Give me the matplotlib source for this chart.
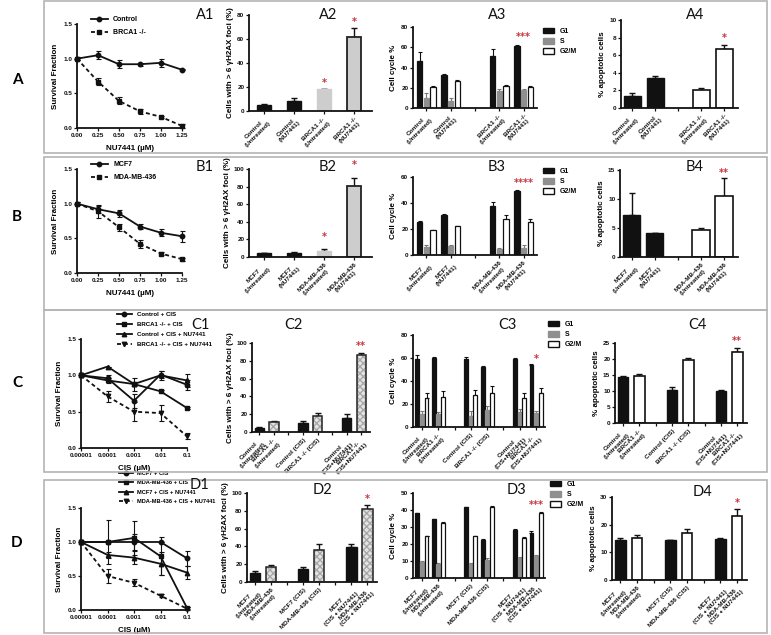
import matplotlib
matplotlib.use('Agg')
import matplotlib.pyplot as plt
import numpy as np
from matplotlib.patches import Rectangle, Patch
from matplotlib.lines import Line2D

# ---------------- DATA ----------------
nu_dose = [0, 0.25, 0.5, 0.75, 1.0, 1.25]
cis_dose = [0.00001, 0.0001, 0.001, 0.01, 0.1]
cis_ticklabels = ["0.00001", "0.0001", "0.001", "0.01", "0.1"]

# A1
a1_names = ["Control", "BRCA1 -/-"]
a1_ctrl = [1.0, 1.05, 0.92, 0.92, 0.94, 0.84]
a1_ctrl_err = [0.02, 0.06, 0.06, 0.02, 0.06, 0.01]
a1_brca = [1.0, 0.67, 0.39, 0.24, 0.16, 0.03]
a1_brca_err = [0.02, 0.05, 0.05, 0.04, 0.02, 0.03]
# A2
a2_labels = ["Control\n(Untreated)", "Control\n(NU7441)", "BRCA1 -/-\n(Untreated)", "BRCA1 -/-\n(NU7441)"]
a2_vals = [5, 8, 18, 62]
a2_err = [1, 3, 0.5, 7]
a2_stars = ["", "", "*", "*"]
# A3
a3_labels = ["Control\n(Untreated)", "Control\n(NU7441)", "", "BRCA1 -/-\n(Untreated)", "BRCA1 -/-\n(NU7441)"]
a3_g1 = [46, 33, 51, 61]
a3_g1_err = [9, 0.7, 7, 1]
a3_s = [10, 7, 17, 18]
a3_s_err = [5, 3, 2, 1]
a3_g2m = [21, 27, 22, 21]
a3_g2m_err = [1, 0.4, 0.5, 1]
a3_stars = ["", "", "", "***"]
# A4
a4_labels = ["Control\n(Untreated)", "Control\n(NU7441)", "", "BRCA1 -/-\n(Untreated)", "BRCA1 -/-\n(NU7441)"]
a4_vals = [1.4, 3.4, 2.1, 6.7]
a4_err = [0.3, 0.2, 0.2, 0.5]
a4_stars = ["", "", "", "*"]

# B1
b1_names = ["MCF7", "MDA-MB-436"]
b1_mcf7 = [1.0, 0.92, 0.86, 0.67, 0.58, 0.53]
b1_mcf7_err = [0.02, 0.05, 0.05, 0.04, 0.05, 0.08]
b1_mda = [1.0, 0.89, 0.66, 0.42, 0.28, 0.20]
b1_mda_err = [0.02, 0.09, 0.05, 0.06, 0.02, 0.02]
# B2
b2_labels = ["MCF7\n(Untreated)", "MCF7\n(NU7441)", "MDA-MB-436\n(Untreated)", "MDA-MB-436\n(NU7441)"]
b2_vals = [4, 4, 7, 81]
b2_err = [1, 2, 2, 9]
b2_stars = ["", "", "*", "*"]
# B3
b3_labels = ["MCF7\n(Untreated)", "MCF7\n(NU7441)", "", "MDA-MB-436\n(Untreated)", "MDA-MB-436\n(NU7441)"]
b3_g1 = [25, 31, 38, 49.5]
b3_g1_err = [1, 0.3, 3, 0.7]
b3_s = [6, 7, 4.5, 5.5]
b3_s_err = [2, 0.5, 0.7, 2.5]
b3_g2m = [19, 22, 28, 25.5]
b3_g2m_err = [0.5, 0.5, 2.5, 2]
b3_stars = ["", "", "", "****"]
# B4
b4_labels = ["MCF7\n(Untreated)", "MCF7\n(NU7441)", "", "MDA-MB-436\n(Untreated)", "MDA-MB-436\n(NU7441)"]
b4_vals = [7.3, 4.1, 4.7, 10.5]
b4_err = [3.8, 0.1, 0.3, 3.2]
b4_stars = ["", "", "", "**"]

# C1
c1_names = ["Control + CIS", "BRCA1 -/- + CIS", "Control + CIS + NU7441", "BRCA1 -/- + CIS + NU7441"]
c1_ctrl = [1.0, 0.96, 0.65, 1.01, 0.87]
c1_ctrl_err = [0.0, 0.05, 0.10, 0.05, 0.07]
c1_brca = [1.0, 0.93, 0.88, 0.78, 0.55]
c1_brca_err = [0.0, 0.03, 0.03, 0.02, 0.01]
c1_ctrl_nu = [1.0, 1.12, 0.88, 1.0, 0.93]
c1_ctrl_nu_err = [0.0, 0.0, 0.09, 0.06, 0.09]
c1_brca_nu = [1.0, 0.71, 0.50, 0.48, 0.16]
c1_brca_nu_err = [0.0, 0.08, 0.13, 0.11, 0.04]
# C2
c2_labels = ["Control\n(Untreated)", "BRCA1 -/-\n(Untreated)", "", "Control (CIS)", "BRCA1 -/- (CIS)", "",
             "Control\n(CIS+NU7441)", "BRCA1 -/-\n(CIS+NU7441)"]
c2_vals = [5, 11, 10, 18, 16, 87]
c2_err = [1, 1, 2, 3, 4, 2]
c2_stars = ["", "", "", "", "", "**"]
# C3
c3_labels = c2_labels
c3_g1 = [59, 60, 59, 52, 59, 54]
c3_g1_err = [4, 0.5, 2, 1, 1, 1]
c3_s = [11, 11, 10, 15, 13, 12]
c3_s_err = [3, 2, 4, 3, 3, 2]
c3_g2m = [25, 26, 28, 30, 25, 30]
c3_g2m_err = [5, 5, 4, 6, 5, 4]
c3_stars = ["", "", "", "", "", "*"]
# C4
c4_labels = c2_labels
c4_vals = [14.5, 14.7, 10.2, 19.8, 10.0, 22.3]
c4_err = [0.3, 0.5, 1.2, 0.5, 0.3, 1.1]
c4_stars = ["", "", "", "", "", "**"]

# D1
d1_names = ["MCF7 + CIS", "MDA-MB-436 + CIS", "MCF7 + CIS + NU7441", "MDA-MB-436 + CIS + NU7441"]
d1_mcf7 = [1.0, 1.0, 1.0, 1.0, 0.76]
d1_mcf7_err = [0.0, 0.33, 0.12, 0.0, 0.11]
d1_mda = [1.0, 1.0, 1.06, 0.79, 0.03]
d1_mda_err = [0.0, 0.0, 0.25, 0.28, 0.02]
d1_mcf7_nu = [1.0, 0.81, 0.77, 0.68, 0.55]
d1_mcf7_nu_err = [0.0, 0.05, 0.10, 0.17, 0.10]
d1_mda_nu = [1.0, 0.50, 0.40, 0.21, 0.02]
d1_mda_nu_err = [0.0, 0.10, 0.05, 0.02, 0.02]
# D2
d2_labels = ["MCF7\n(Untreated)", "MDA-MB-436\n(Untreated)", "", "MCF7 (CIS)", "MDA-MB-436 (CIS)", "",
             "MCF7\n(CIS + NU7441)", "MDA-MB-436\n(CIS + NU7441)"]
d2_vals = [10, 17, 15, 36, 39, 82]
d2_err = [2, 2, 2, 7, 4, 5]
d2_stars = ["", "", "", "", "", "*"]
# D3
d3_labels = d2_labels
d3_g1 = [38, 34.5, 41.5, 22.5, 28.5, 26.5]
d3_g1_err = [0.3, 0.3, 0.3, 0.3, 0.3, 1]
d3_s = [9.5, 8.5, 8.5, 10.5, 12, 13]
d3_s_err = [0.5, 0.3, 0.5, 1, 0.3, 0.3]
d3_g2m = [24.5, 32.5, 24.5, 41.5, 23.5, 38.5]
d3_g2m_err = [0.5, 0.3, 0.3, 1, 0.5, 0.5]
d3_stars = ["", "", "", "", "", "***"]
# D4
d4_labels = d2_labels
d4_vals = [14.5, 15.3, 14.3, 17.0, 14.8, 23.0]
d4_err = [0.7, 0.8, 0.2, 1.3, 0.3, 2.5]
d4_stars = ["", "", "", "", "", "*"]

# ---------------- STYLE ----------------
W, H = 771, 635
fig = plt.figure(figsize=(W / 100, H / 100), dpi=100)
TF = 'Liberation Sans'
TITLEF = 'Lato'
RED = '#c8323a'
BLACK = '#111111'
GRAY_S = '#8f8f8f'
LIGHT = '#cdcdcd'
TS = 4.6


def rect(l, t, r, b):
    return [l / W, 1 - b / H, (r - l) / W, (b - t) / H]


def style(ax):
    for s in ['top', 'right']:
        ax.spines[s].set_visible(False)
    for s in ['left', 'bottom']:
        ax.spines[s].set_linewidth(1.3)
        ax.spines[s].set_color(BLACK)
    ax.tick_params(length=2.2, width=0.9, pad=1.2, labelsize=TS, colors=BLACK)
    ax.set_facecolor('none')


def ylabel(ax, txt, pad=2):
    ax.set_ylabel(txt, fontsize=5.8, fontfamily=TF, fontweight='bold', labelpad=pad)


def xticks_rot(ax, pos, labels):
    ax.set_xticks(pos)
    ax.set_xticklabels(labels, rotation=45, ha='right', va='top', rotation_mode='anchor',
                       fontsize=TS, fontfamily=TF, fontweight='bold', multialignment='center')
    ax.tick_params(axis='x', pad=1.5)


def frame(t, b):
    fig.add_artist(Rectangle((44 / W, 1 - b / H), (767 - 44) / W, (b - t) / H, transform=fig.transFigure,
                             fill=False, edgecolor='#b4b4b4', lw=1.2))


def title(x, y, txt):
    fig.text(x / W, 1 - y / H, txt, fontsize=10.5, fontfamily=TITLEF, ha='center', va='center', color='#111')


def stars(ax, pos, vals, errs, marks, pad):
    for p, v, e, m in zip(pos, vals, errs, marks):
        if m:
            ax.text(p, v + e + pad, m, color=RED, ha='center', va='center', fontsize=7, fontweight='bold',
                    clip_on=False)


def line_panel(box, x, series, xlabel, ylim_top=1.5, log=False, leg_xy=None, leg_sp=0.9, ticklabels=None,
               leg_size=5.0):
    ax = fig.add_axes(rect(*box))
    markers = ['o', 's', '^', 'v']
    handles = []
    for i, (name, y, e, dashed) in enumerate(series):
        ls = (0, (2.2, 1.6)) if dashed else '-'
        m = markers[i] if len(series) > 2 else ['o', 's'][i]
        ax.errorbar(x, y, yerr=e, color=BLACK, lw=1.3, ls=ls, marker=m, ms=3.2, capsize=1.8,
                    elinewidth=0.8, capthick=0.8, clip_on=False, zorder=3)
        handles.append(Line2D([], [], color=BLACK, lw=1.3, ls=ls, marker=m, ms=3.2, label=name))
    style(ax)
    if log:
        ax.set_xscale('log')
        ax.set_xlim(x[0], x[-1])
        ax.set_xticks(x)
        ax.set_xticklabels(ticklabels, fontsize=TS, fontfamily=TF, fontweight='bold')
        ax.minorticks_off()
    else:
        ax.set_xlim(x[0], x[-1])
        ax.set_xticks(x)
        ax.set_xticklabels(['%.2f' % v for v in x], fontsize=TS, fontfamily=TF, fontweight='bold')
    ax.set_yticks([0, 0.5, 1.0, 1.5])
    ax.set_yticklabels(['0.0', '0.5', '1.0', '1.5'], fontsize=TS, fontfamily=TF, fontweight='bold')
    ax.set_ylim(0, ylim_top)
    ax.set_xlabel(xlabel, fontsize=5.8, fontfamily=TF, fontweight='bold', labelpad=5)
    ylabel(ax, "Survival Fraction", pad=3)
    ax.legend(handles=handles, loc='upper left', bbox_to_anchor=(leg_xy[0] / W, 1 - leg_xy[1] / H),
              bbox_transform=fig.transFigure, frameon=False,
              prop={'family': TF, 'weight': 'bold', 'size': leg_size},
              handlelength=2.4, handletextpad=0.8, labelspacing=leg_sp, borderpad=0, borderaxespad=0)
    return ax


def simple_bar(box, labels, slots, vals, errs, styles, ylim, yticks, marks, star_pad, width):
    ax = fig.add_axes(rect(*box))
    for p, v, e, st in zip(slots, vals, errs, styles):
        if st == 'black':
            ax.bar(p, v, width, color=BLACK, edgecolor=BLACK, lw=1.0, zorder=2)
        elif st == 'light':
            ax.bar(p, v, width, color=LIGHT, edgecolor=LIGHT, lw=1.0, zorder=2)
        elif st == 'gray':
            ax.bar(p, v, width, color=LIGHT, edgecolor='#222', lw=1.3, zorder=2)
        elif st == 'white':
            ax.bar(p, v, width, color='white', edgecolor=BLACK, lw=1.2, zorder=2)
        elif st == 'hatch':
            ax.bar(p, v, width, color='#e4e4e4', edgecolor='#a8a8a8', lw=0, hatch='xxxxx', zorder=2)
            ax.bar(p, v, width, fill=False, edgecolor='#222', lw=1.1, zorder=3)
        ax.errorbar(p, v, yerr=[[0], [e]], color=BLACK, lw=0, elinewidth=1.0, capsize=2.2, capthick=1.0,
                    zorder=1)
    style(ax)
    ax.set_ylim(0, ylim)
    ax.set_yticks(yticks)
    ax.set_yticklabels([str(t) for t in yticks], fontsize=TS, fontfamily=TF, fontweight='bold')
    n = len(labels)
    ax.set_xlim(-0.5, n - 0.4)
    xticks_rot(ax, list(range(n)), labels)
    stars(ax, slots, vals, errs, marks, star_pad)
    return ax


def cycle_bar(box, labels, slots, g1, g1e, s, se, g2, g2e, ylim, yticks, marks, star_pad, leg_xy, bw=0.22,
              off=0.27):
    ax = fig.add_axes(rect(*box))
    slots = np.array(slots, dtype=float)
    for k, (vals, errs, fc, ec) in enumerate([(g1, g1e, BLACK, BLACK), (s, se, GRAY_S, GRAY_S),
                                               (g2, g2e, 'white', BLACK)]):
        pos = slots + (k - 1) * off
        ax.bar(pos, vals, bw, color=fc, edgecolor=ec, lw=0.9, zorder=2)
        ax.errorbar(pos, vals, yerr=[np.zeros(len(vals)), errs], fmt='none', ecolor=BLACK if k != 1 else '#777',
                    elinewidth=0.8, capsize=1.2, capthick=0.8, zorder=1)
    style(ax)
    ax.set_ylim(0, ylim)
    ax.set_yticks(yticks)
    ax.set_yticklabels([str(t) for t in yticks], fontsize=TS, fontfamily=TF, fontweight='bold')
    n = len(labels)
    ax.set_xlim(-0.55, n - 0.45)
    xticks_rot(ax, list(range(n)), labels)
    tops = [max(a + ae, c + ce) for a, ae, c, ce in zip(g1, g1e, g2, g2e)]
    stars(ax, slots, tops, [0] * len(tops), marks, star_pad)
    ylabel(ax, "Cell cycle %", pad=3)
    handles = [Patch(facecolor=BLACK, edgecolor=BLACK, label='G1'),
               Patch(facecolor=GRAY_S, edgecolor=GRAY_S, label='S'),
               Patch(facecolor='white', edgecolor=BLACK, lw=1.0, label='G2/M')]
    ax.legend(handles=handles, loc='upper left', bbox_to_anchor=(leg_xy[0] / W, 1 - leg_xy[1] / H),
              bbox_transform=fig.transFigure, frameon=False, prop={'family': TF, 'weight': 'bold', 'size': 5},
              handlelength=1.6, handleheight=0.8, handletextpad=0.8, labelspacing=0.45, borderpad=0,
              borderaxespad=0)
    return ax


# frames
frame(1, 153)
frame(157, 310)
frame(310, 472)
frame(480, 633)
for lab, y in [("A", 80), ("B", 217), ("C", 383), ("D", 543)]:
    fig.text(17 / W, 1 - y / H, lab, fontsize=11, fontfamily=TITLEF, fontweight='bold', ha='center', va='center')

# ---------------- ROW A ----------------
line_panel((77, 24, 182, 128), nu_dose,
           [(a1_names[0], a1_ctrl, a1_ctrl_err, False), (a1_names[1], a1_brca, a1_brca_err, True)],
           "NU7441 (\u00b5M)", leg_xy=(91, 16), leg_sp=0.9)
title(205, 15, "A1")
ax = simple_bar((249, 15, 372, 111), a2_labels, [0, 1, 2, 3], a2_vals, a2_err,
                ['black', 'black', 'light', 'gray'], 80, [0, 20, 40, 60, 80], a2_stars, 5, 0.45)
ylabel(ax, "Cells with > 6 \u03b3H2AX foci (%)")
title(328, 15, "A2")
cycle_bar((413, 27, 537, 108), a3_labels, [0, 1, 3, 4], a3_g1, a3_g1_err, a3_s, a3_s_err, a3_g2m, a3_g2m_err,
          80, [0, 20, 40, 60, 80], a3_stars, 8, (543, 28))
title(497, 15, "A3")
ax = simple_bar((621, 20, 738, 108), a4_labels, [0, 1, 3, 4], a4_vals, a4_err,
                ['black', 'black', 'white', 'white'], 10, [0, 2, 4, 6, 8, 10], a4_stars, 0.7, 0.75)
ylabel(ax, "% apoptotic cells")
title(695, 15, "A4")

# ---------------- ROW B ----------------
line_panel((77, 169, 182, 273), nu_dose,
           [(b1_names[0], b1_mcf7, b1_mcf7_err, False), (b1_names[1], b1_mda, b1_mda_err, True)],
           "NU7441 (\u00b5M)", leg_xy=(91, 161), leg_sp=0.9)
title(205, 167, "B1")
ax = simple_bar((249, 169, 372, 257), b2_labels, [0, 1, 2, 3], b2_vals, b2_err,
                ['black', 'black', 'light', 'gray'], 100, [0, 20, 40, 60, 80, 100], b2_stars, 14, 0.45)
ylabel(ax, "Cells with > 6 \u03b3H2AX foci (%)")
title(328, 167, "B2")
cycle_bar((413, 177, 537, 255), b3_labels, [0, 1, 3, 4], b3_g1, b3_g1_err, b3_s, b3_s_err, b3_g2m, b3_g2m_err,
          60, [0, 20, 40, 60], b3_stars, 5, (543, 168))
title(497, 167, "B3")
ax = simple_bar((620, 170, 738, 257), b4_labels, [0, 1, 3, 4], b4_vals, b4_err,
                ['black', 'black', 'white', 'white'], 15, [0, 5, 10, 15], b4_stars, 0.8, 0.75)
ylabel(ax, "% apoptotic cells")
title(695, 167, "B4")

# ---------------- ROW C ----------------
line_panel((81, 339, 187, 448), cis_dose,
           [(c1_names[0], c1_ctrl, c1_ctrl_err, False), (c1_names[1], c1_brca, c1_brca_err, False),
            (c1_names[2], c1_ctrl_nu, c1_ctrl_nu_err, False), (c1_names[3], c1_brca_nu, c1_brca_nu_err, True)],
           "CIS (\u00b5M)", log=True, leg_xy=(117, 312), leg_sp=0.75, ticklabels=cis_ticklabels, leg_size=4.4)
title(200, 325, "C1")
ax = simple_bar((252, 343, 370, 432), c2_labels, [0, 1, 3, 4, 6, 7], c2_vals, c2_err,
                ['black', 'hatch'] * 3, 100, [0, 20, 40, 60, 80, 100], c2_stars, 8, 0.65)
ylabel(ax, "Cells with > 6 \u03b3H2AX foci (%)")
title(293, 325, "C2")
cycle_bar((413, 335, 545, 427), c3_labels, [0, 1, 3, 4, 6, 7], c3_g1, c3_g1_err, c3_s, c3_s_err, c3_g2m,
          c3_g2m_err, 80, [0, 20, 40, 60, 80], c3_stars, 4, (548, 321), bw=0.24, off=0.28)
title(507, 325, "C3")
ax = simple_bar((615, 343, 747, 423), c4_labels, [0, 1, 3, 4, 6, 7], c4_vals, c4_err,
                ['black', 'white'] * 3, 25, [0, 5, 10, 15, 20, 25], c4_stars, 2.2, 0.65)
ylabel(ax, "% apoptotic cells")
title(697, 325, "C4")

# ---------------- ROW D ----------------
line_panel((81, 508, 187, 610), cis_dose,
           [(d1_names[0], d1_mcf7, d1_mcf7_err, False), (d1_names[1], d1_mda, d1_mda_err, False),
            (d1_names[2], d1_mcf7_nu, d1_mcf7_nu_err, False), (d1_names[3], d1_mda_nu, d1_mda_nu_err, True)],
           "CIS (\u00b5M)", log=True, leg_xy=(119, 471), leg_sp=0.78, ticklabels=cis_ticklabels, leg_size=4.1)
title(199, 485, "D1")
ax = simple_bar((247, 493, 377, 582), d2_labels, [0, 1, 3, 4, 6, 7], d2_vals, d2_err,
                ['black', 'hatch'] * 3, 100, [0, 20, 40, 60, 80, 100], d2_stars, 6, 0.65)
ylabel(ax, "Cells with > 6 \u03b3H2AX foci (%)")
title(323, 490, "D2")
cycle_bar((413, 493, 545, 578), d3_labels, [0, 1, 3, 4, 6, 7], d3_g1, d3_g1_err, d3_s, d3_s_err, d3_g2m,
          d3_g2m_err, 50, [0, 10, 20, 30, 40, 50], d3_stars, 4, (550, 481), bw=0.24, off=0.28)
title(517, 490, "D3")
ax = simple_bar((612, 497, 747, 580), d4_labels, [0, 1, 3, 4, 6, 7], d4_vals, d4_err,
                ['black', 'white'] * 3, 30, [0, 10, 20, 30], d4_stars, 2.5, 0.65)
ylabel(ax, "% apoptotic cells")
title(703, 492, "D4")

fig.savefig('out.png', dpi=100, facecolor='white')
